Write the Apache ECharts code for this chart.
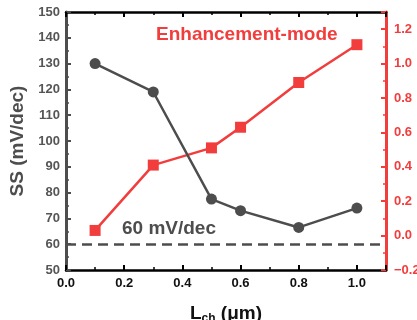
<!DOCTYPE html>
<html>
<head>
<meta charset="utf-8">
<script src="https://cdn.jsdelivr.net/npm/echarts@6/dist/echarts.min.js"></script>
<style>
  html, body { margin: 0; padding: 0; background: #fff; }
  #chart { width: 417px; height: 320px; }
</style>
</head>
<body>
<div id="chart"></div>
<script>
// channel length (um)
var lengths = [0.1, 0.3, 0.5, 0.6, 0.8, 1.0];
// subthreshold swing (mV/dec), left axis
var ssValues = [130, 119, 77.5, 73, 66.5, 74];
// threshold voltage style values, right axis
var rightValues = [0.03, 0.41, 0.51, 0.63, 0.89, 1.11];
var idealSS = 60;

var FONT = '"Liberation Sans", Arial, sans-serif';
var GRAY = '#4d4d4d';
var RED = '#f23d3d';

function pairs(xs, ys) {
    var out = [];
    for (var i = 0; i < xs.length; i++) out.push([xs[i], ys[i]]);
    return out;
}

var chart = echarts.init(document.getElementById('chart'));
var option = {
    animation: false,
    grid: { left: 66, right: 31, top: 12, bottom: 50, outerBoundsMode: 'none', containLabel: false },
    xAxis: [{
        type: 'value', min: 0, max: 1.1, interval: 0.2,
        name: '{a|L}{b|ch}{a| (μm)}',
        nameLocation: 'middle', nameGap: 33,
        nameTextStyle: {
            rich: {
                a: { fontFamily: FONT, fontWeight: 'bold', fontSize: 19, color: '#111' },
                b: { fontFamily: FONT, fontWeight: 'bold', fontSize: 12, color: '#111', verticalAlign: 'bottom', padding: [10, 0, 0, 0] }
            }
        },
        axisLine: { onZero: false, lineStyle: { color: '#000', width: 2.5 } },
        axisTick: { inside: true, length: 5, lineStyle: { color: '#000', width: 2 } },
        minorTick: { show: true, splitNumber: 2, length: 3, lineStyle: { color: '#000', width: 1.5 } },
        splitLine: { show: false },
        axisLabel: {
            showMaxLabel: false, margin: 7,
            fontFamily: FONT, fontWeight: 'bold', fontSize: 13, color: '#111',
            formatter: function (v) { return v.toFixed(1); }
        }
    }, {
        type: 'value', position: 'top', min: 0, max: 1.1, interval: 0.2,
        axisLine: { onZero: false, lineStyle: { color: '#000', width: 2.5 } },
        axisTick: { inside: true, length: 5, lineStyle: { color: '#000', width: 2 } },
        minorTick: { show: true, splitNumber: 2, length: 3, lineStyle: { color: '#000', width: 1.5 } },
        splitLine: { show: false },
        axisLabel: { show: false }
    }],
    yAxis: [{
        type: 'value', position: 'left', min: 50, max: 150, interval: 10,
        name: 'SS (mV/dec)', nameLocation: 'middle', nameGap: 26,
        nameTextStyle: { fontFamily: FONT, fontWeight: 'bold', fontSize: 19, color: GRAY },
        axisLine: { show: true, onZero: false, lineStyle: { color: GRAY, width: 3 } },
        axisTick: { show: true, inside: true, length: 5, lineStyle: { color: GRAY, width: 2 } },
        minorTick: { show: true, splitNumber: 2, length: 3, lineStyle: { color: GRAY, width: 1.5 } },
        splitLine: { show: false },
        axisLabel: { margin: 6, fontFamily: FONT, fontWeight: 'bold', fontSize: 13, color: '#555' }
    }, {
        type: 'value', position: 'right', min: -0.2, max: 1.3, interval: 0.2,
        axisLine: { show: true, onZero: false, lineStyle: { color: RED, width: 3 } },
        axisTick: { show: true, inside: true, length: 5, lineStyle: { color: RED, width: 2 } },
        minorTick: { show: true, splitNumber: 2, length: 3, lineStyle: { color: RED, width: 1.5 } },
        splitLine: { show: false },
        axisLabel: {
            showMaxLabel: false, margin: 8,
            fontFamily: FONT, fontWeight: 'bold', fontSize: 13, color: RED,
            formatter: function (v) {
                var s = Math.abs(v).toFixed(1);
                return v < -1e-9 ? '\u2212' + s : s;
            }
        }
    }],
    series: [{
        type: 'line', xAxisIndex: 0, yAxisIndex: 0,
        data: pairs(lengths, ssValues),
        symbol: 'circle', symbolSize: 11,
        lineStyle: { color: GRAY, width: 2.5 },
        itemStyle: { color: GRAY },
        markLine: {
            silent: true, symbol: 'none', label: { show: false },
            lineStyle: { color: GRAY, width: 2.5, type: [10, 6] },
            data: [{ yAxis: idealSS }]
        },
        z: 3
    }, {
        type: 'line', xAxisIndex: 0, yAxisIndex: 1,
        data: pairs(lengths, rightValues),
        symbol: 'rect', symbolSize: 11,
        lineStyle: { color: RED, width: 2.5 },
        itemStyle: { color: RED },
        z: 2
    }],
    graphic: [{
        type: 'text', left: 156, top: 25,
        style: { text: 'Enhancement-mode', fontFamily: FONT, fontWeight: 'bold', fontSize: 19, fill: RED }
    }, {
        type: 'text', left: 122, top: 219,
        style: { text: '60 mV/dec', fontFamily: FONT, fontWeight: 'bold', fontSize: 19, fill: GRAY }
    }]
};
option && chart.setOption(option);
</script>
</body>
</html>
